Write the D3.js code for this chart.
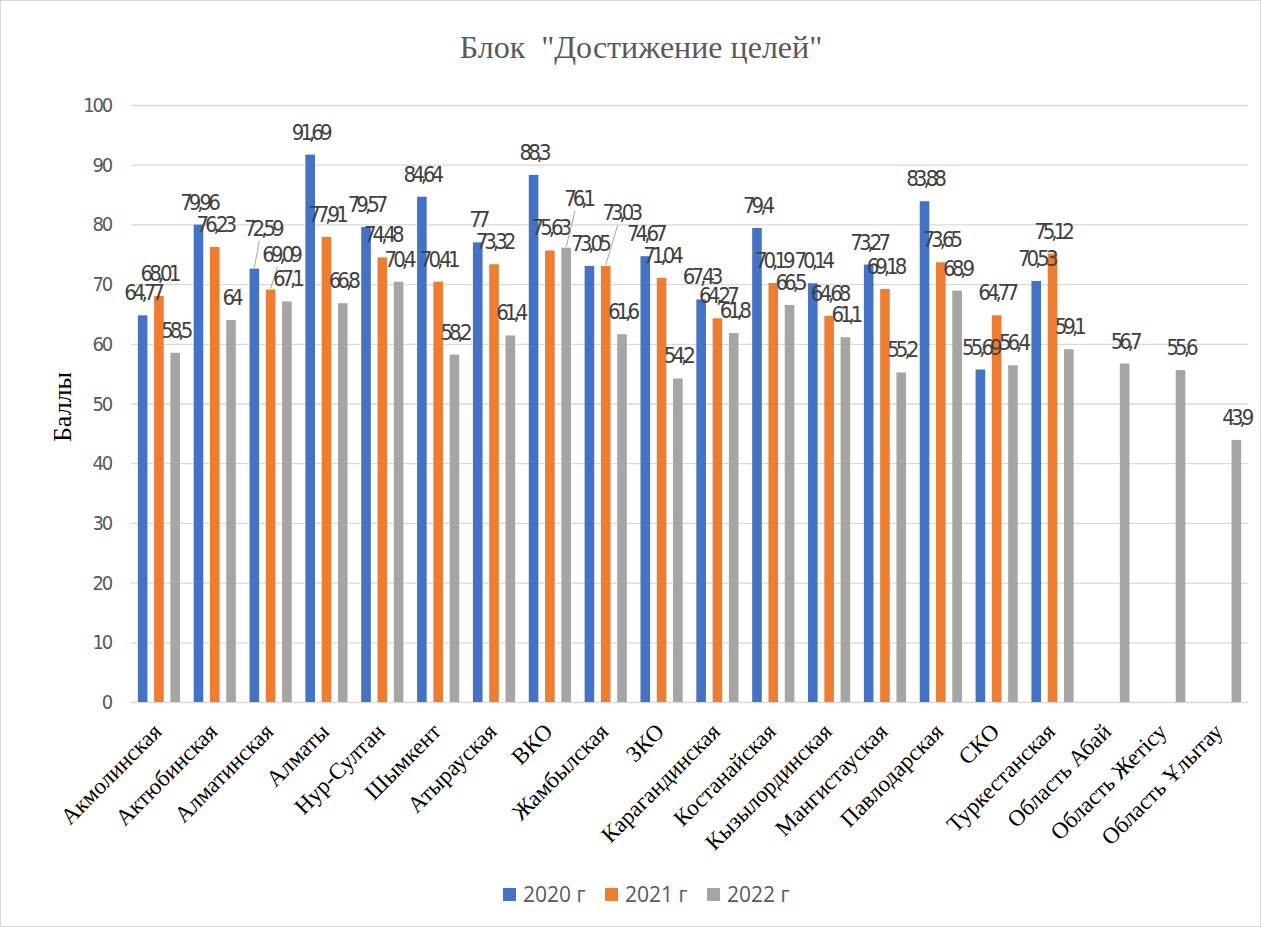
<!DOCTYPE html>
<html>
<head>
<meta charset="utf-8">
<script src="https://cdn.jsdelivr.net/npm/d3@7"></script>
<style>
  body { margin: 0; background: #fff; }
  svg { display: block; }
  .grid line { stroke: #d9d9d9; stroke-width: 1.3; }
  .grid path { display: none; }
  .value-label { font-family: "Liberation Sans Narrow", "DejaVu Sans Condensed", sans-serif; fill: #404040; }
</style>
</head>
<body>
<div id="chart"></div>
<script>
// regions (x axis)
const regions = [
  'Акмолинская', 'Актюбинская', 'Алматинская', 'Алматы', 'Нур-Султан',
  'Шымкент', 'Атырауская', 'ВКО', 'Жамбылская', 'ЗКО',
  'Карагандинская', 'Костанайская', 'Кызылординская', 'Мангистауская', 'Павлодарская',
  'СКО', 'Туркестанская', 'Область Абай', 'Область Жетісу', 'Область Ұлытау'
];

const years = ['2020 г', '2021 г', '2022 г'];

const values2020 = [64.77, 79.96, 72.59, 91.69, 79.57, 84.64, 77, 88.3, 73.05, 74.67,
  67.43, 79.4, 70.14, 73.27, 83.88, 55.69, 70.53, null, null, null];
const values2021 = [68.01, 76.23, 69.09, 77.91, 74.48, 70.41, 73.32, 75.63, 73.03, 71.04,
  64.27, 70.19, 64.68, 69.18, 73.65, 64.77, 75.12, null, null, null];
const values2022 = [58.5, 64, 67.1, 66.8, 70.4, 58.2, 61.4, 76.1, 61.6, 54.2,
  61.8, 66.5, 61.1, 55.2, 68.9, 56.4, 59.1, 56.7, 55.6, 43.9];

const yTicks = [0, 10, 20, 30, 40, 50, 60, 70, 80, 90, 100];

const colors = ['#4472c4', '#ed7d31', '#a5a5a5'];

// labels that were pulled away from their bar (drawn with a leader line)
const movedLabels = [
  { region: 'Алматинская', year: '2020 г', dx: 8, dy: -18 },
  { region: 'Алматинская', year: '2021 г', dx: 10, dy: -13 },
  { region: 'ВКО', year: '2022 г', dx: 12, dy: -27 },
  { region: 'Жамбылская', year: '2021 г', dx: 15, dy: -31 }
];

const width = 1261;
const height = 927;
const margin = { top: 105, right: 13, bottom: 225, left: 131 };

const seriesValues = [values2020, values2021, values2022];
const rows = [];
regions.forEach((r, i) => {
  years.forEach((yr, j) => {
    const v = seriesValues[j][i];
    if (v != null) rows.push({ region: r, year: yr, value: v, color: colors[j] });
  });
});

const svg = d3.select('#chart').append('svg')
  .attr('width', width)
  .attr('height', height);

// chart border like the office frame
svg.append('rect')
  .attr('x', 0.5).attr('y', 0.5)
  .attr('width', width - 1).attr('height', height - 1)
  .attr('fill', '#fff')
  .attr('stroke', '#d9d9d9');

const x0 = d3.scaleBand()
  .domain(regions)
  .range([margin.left, width - margin.right]);

const x1 = d3.scaleBand()
  .domain(years)
  .range([0, x0.bandwidth()])
  .paddingInner(0.41)
  .paddingOuter(0.42);

const y = d3.scaleLinear()
  .domain([0, 100])
  .range([height - margin.bottom, margin.top]);

// gridlines
svg.append('g')
  .attr('class', 'grid')
  .attr('transform', `translate(${margin.left},0)`)
  .call(d3.axisLeft(y).tickValues(yTicks).tickSize(-(width - margin.left - margin.right)).tickFormat(''));

// y tick labels
svg.append('g')
  .selectAll('text')
  .data(yTicks)
  .join('text')
  .attr('x', margin.left - 20)
  .attr('y', d => y(d))
  .attr('dy', '0.35em')
  .attr('text-anchor', 'end')
  .attr('font-family', '"Liberation Sans Narrow", "DejaVu Sans Condensed", sans-serif')
  .attr('font-size', 20)
  .attr('letter-spacing', -2.2)
  .attr('fill', '#595959')
  .text(d => d);

// bars
svg.append('g')
  .selectAll('rect')
  .data(rows)
  .join('rect')
  .attr('x', d => x0(d.region) + x1(d.year))
  .attr('y', d => y(d.value))
  .attr('width', x1.bandwidth())
  .attr('height', d => y(0) - y(d.value))
  .attr('fill', d => d.color);

// value labels
const labels = svg.append('g');
rows.forEach(d => {
  const cx = x0(d.region) + x1(d.year) + x1.bandwidth() / 2;
  const top = y(d.value);
  const moved = movedLabels.find(m => m.region === d.region && m.year === d.year);
  const dx = moved ? moved.dx : 0;
  const dy = moved ? moved.dy : 0;
  const lx = cx + dx;
  const ly = top - 15 + dy;
  if (moved) {
    labels.append('line')
      .attr('x1', lx - 3).attr('y1', ly + 5)
      .attr('x2', cx).attr('y2', top - 1)
      .attr('stroke', '#a6a6a6')
      .attr('stroke-width', 1);
  }
  labels.append('text')
    .attr('class', 'value-label')
    .attr('x', lx)
    .attr('y', ly)
    .attr('text-anchor', 'middle')
    .attr('font-size', 22)
    .attr('letter-spacing', -4)
    .text(String(d.value).replace('.', ','));
});

// x labels
svg.append('g')
  .selectAll('text')
  .data(regions)
  .join('text')
  .attr('transform', d => `translate(${x0(d) + x0.bandwidth() / 2 + 4},${y(0) + 31}) rotate(-45)`)
  .attr('text-anchor', 'end')
  .attr('font-family', '"Liberation Serif", "Times New Roman", serif')
  .attr('font-size', 23)
  .attr('fill', '#000')
  .text(d => d);

// y axis title
svg.append('text')
  .attr('transform', `translate(71,407) rotate(-90)`)
  .attr('text-anchor', 'middle')
  .attr('font-family', '"Liberation Serif", "Times New Roman", serif')
  .attr('font-size', 26)
  .attr('fill', '#000')
  .text('Баллы');

// title
svg.append('text')
  .attr('x', 641)
  .attr('y', 58)
  .attr('text-anchor', 'middle')
  .attr('font-family', '"Liberation Serif", "Times New Roman", serif')
  .attr('font-size', 32)
  .attr('fill', '#595959')
  .style('white-space', 'pre')
  .text('Блок  "Достижение целей"');

// legend
const legend = svg.append('g')
  .selectAll('g')
  .data(years)
  .join('g')
  .attr('transform', (d, i) => `translate(${503 + i * 102},888)`);

legend.append('rect')
  .attr('width', 13)
  .attr('height', 13)
  .attr('fill', (d, i) => colors[i]);

legend.append('text')
  .attr('x', 20)
  .attr('y', 7)
  .attr('dy', '0.35em')
  .attr('font-family', '"Open Sans", "Noto Sans", sans-serif')
  .attr('font-size', 21)
  .attr('fill', '#595959')
  .text(d => d);
</script>
</body>
</html>
